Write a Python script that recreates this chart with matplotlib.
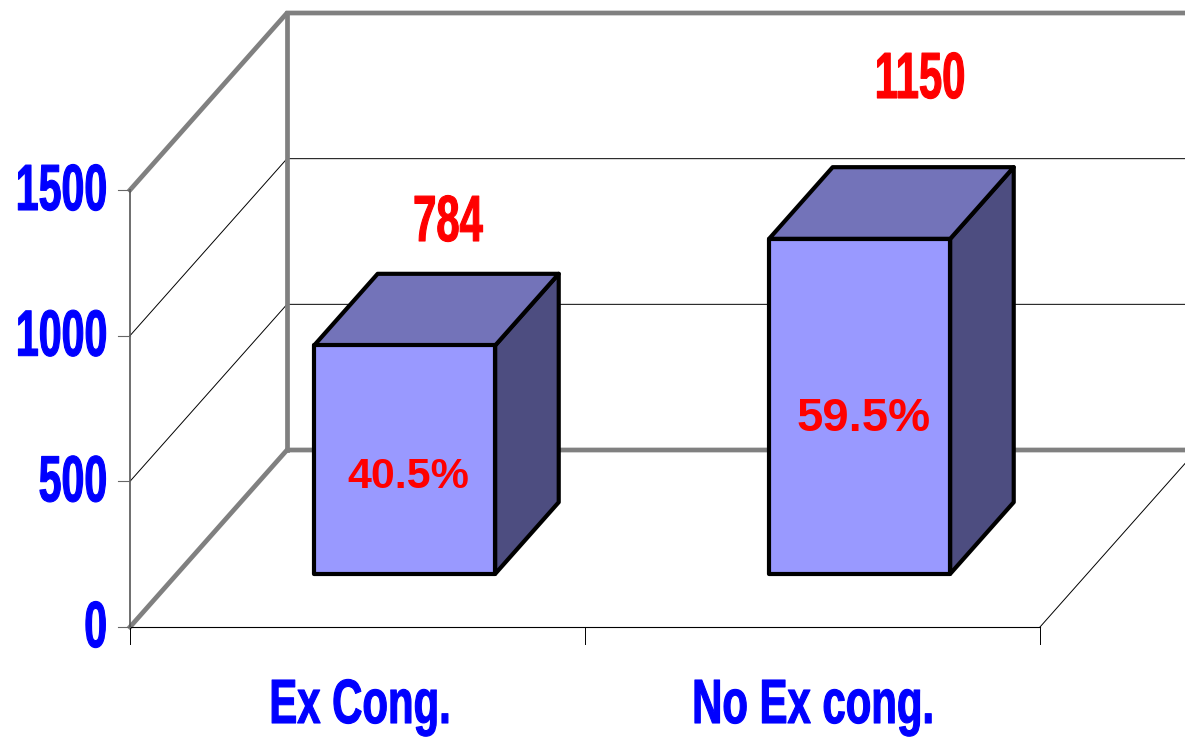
import matplotlib
matplotlib.use("Agg")
import matplotlib.pyplot as plt
from matplotlib.patches import Polygon
from matplotlib.patheffects import AbstractPathEffect
from matplotlib.transforms import Affine2D

categories = ["Ex Cong.", "No Ex cong."]
counts = [784, 1150]
percents = ["40.5%", "59.5%"]
y_ticks = [0, 500, 1000, 1500]

W, H = 1185, 737
X0, Y0 = 130, 627          # front left corner of the floor, in pixels
CAT_W = 455                # pixels per category
PX_PER_UNIT = 437 / 1500   # pixels per value unit
DEPTH_X = 157 / CAT_W      # wall depth in category units
DEPTH_Y = 177 / PX_PER_UNIT

BAR_L, BAR_W = 0.301, 0.398
BAR_DEPTH_START = 0.3
BAR_DEPTH = 0.405

# label spots in pixels (center x, baseline y), the chart placed these by hand
COUNT_SPOTS = [(448, 241), (920, 98)]
PERCENT_SPOTS = [(408, 488), (864, 431)]
PERCENT_SIZES = [31, 34]
CAT_SPOTS = [(360, 723), (813, 723)]


class TallText(AbstractPathEffect):
    # the source font is a squeezed Arial bold, no narrow font is installed,
    # so use a small size and stretch it up from the baseline
    def __init__(self, base_y, sy, bold):
        super().__init__()
        self.base_y, self.sy, self.bold = base_y, sy, bold

    def draw_path(self, renderer, gc, tpath, affine, rgbFace=None):
        tall = Affine2D().translate(0, -self.base_y).scale(1, self.sy).translate(0, self.base_y)
        gc0 = renderer.new_gc()
        gc0.copy_properties(gc)
        gc0.set_foreground(rgbFace)
        gc0.set_linewidth(self.bold)
        renderer.draw_path(gc0, tpath, affine + tall, rgbFace)
        gc0.restore()


def label(px, py, s, color, size, ha="center", sx=1.0):
    t = ax.text((px - X0) / CAT_W, (Y0 - py) / PX_PER_UNIT, s, color=color, fontsize=size * sx,
                fontweight="bold", family="Liberation Sans", ha=ha, va="baseline", zorder=6)
    if sx != 1.0:
        t.set_path_effects([TallText(H - py, 1 / sx, 0.8)])
    return t


def shift(x, y, d):
    return x + d * DEPTH_X, y + d * DEPTH_Y


fig = plt.figure(figsize=(W / 100, H / 100), dpi=100)
ax = fig.add_axes([0, 0, 1, 1])
ax.set_xlim(-X0 / CAT_W, (W - X0) / CAT_W)
ax.set_ylim((Y0 - H) / PX_PER_UNIT, Y0 / PX_PER_UNIT)
ax.axis("off")

vmax = y_ticks[-1]
right = (W - X0) / CAT_W

# thin gridlines on side and back wall
for v in y_ticks[1:-1]:
    bx, by = shift(0, v, 1)
    ax.plot([0, bx, right], [v, by, by], color="black", lw=0.7, zorder=1)

# heavy gray wall frame
gray = "#808080"
bx, by0 = shift(0, 0, 1)
_, by1 = shift(0, vmax, 1)
ax.plot([0, bx, right], [0, by0, by0], color=gray, lw=3.4, zorder=2, solid_joinstyle="miter")
ax.plot([0, bx, right], [vmax, by1, by1], color=gray, lw=3.4, zorder=2, solid_joinstyle="miter")
ax.plot([bx, bx], [by0, by1], color=gray, lw=3.4, zorder=2)

# front axes
n = len(categories)
ax.plot([0, 0], [0, vmax], color="#555555", lw=1.2, zorder=3)
ax.plot([0, n], [0, 0], color="black", lw=0.8, zorder=3)
fx, fy = shift(n, 0, 1)
ax.plot([n, fx], [0, fy], color="black", lw=0.7, zorder=3)
for i in range(n + 1):
    ax.plot([i, i], [0, -60], color="black", lw=0.7, zorder=3)
for v in y_ticks:
    ax.plot([-0.026, 0], [v, v], color="#666666", lw=0.8, zorder=3)
    py = Y0 - v * PX_PER_UNIT + 20
    label(107, py, str(v), "#0000ff", 47, ha="right", sx=0.63)

# bars
for i, (cat, c, p) in enumerate(zip(categories, counts, percents)):
    l = i + BAR_L
    r = l + BAR_W
    d0 = BAR_DEPTH_START
    d1 = d0 + BAR_DEPTH
    front = [shift(l, 0, d0), shift(r, 0, d0), shift(r, c, d0), shift(l, c, d0)]
    top = [shift(l, c, d0), shift(r, c, d0), shift(r, c, d1), shift(l, c, d1)]
    side = [shift(r, 0, d0), shift(r, 0, d1), shift(r, c, d1), shift(r, c, d0)]
    for pts, col in [(side, "#4d4d80"), (top, "#7373b9"), (front, "#9999ff")]:
        ax.add_patch(Polygon(pts, closed=True, facecolor=col, edgecolor="black",
                             lw=3, joinstyle="round", zorder=4))
    label(*PERCENT_SPOTS[i], p, "#ff0000", PERCENT_SIZES[i])
    label(*COUNT_SPOTS[i], str(c), "#ff0000", 47, sx=0.64)
    label(*CAT_SPOTS[i], cat, "#0000ff", 45, sx=0.67)

fig.savefig("out.png", dpi=100)
